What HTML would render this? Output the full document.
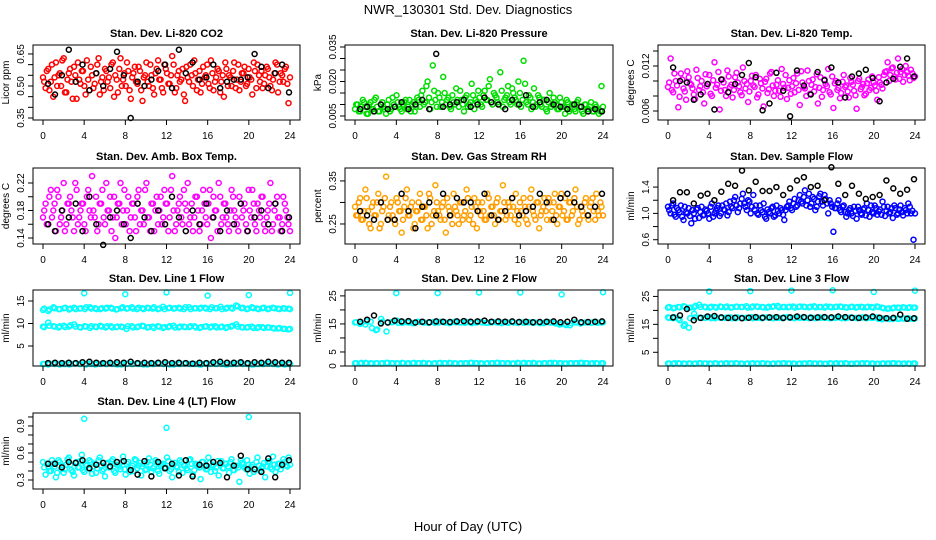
<!DOCTYPE html>
<html><head><meta charset="utf-8"><style>
body{margin:0;background:#fff}
svg{display:block}
text{font-family:"Liberation Sans",Arial,sans-serif;fill:#000}
</style></head><body>
<svg id="chart" width="936" height="540" viewBox="0 0 936 540" xmlns="http://www.w3.org/2000/svg">
<rect x="0" y="0" width="936" height="540" fill="#fff"/>
<text x="468" y="14" font-size="13" text-anchor="middle">NWR_130301  Std. Dev. Diagnostics</text>
<text x="468" y="531" font-size="13" text-anchor="middle">Hour of Day (UTC)</text>
</svg>
<script>
const xTicks=[0,4,8,12,16,20,24];
const co2Main=[0.54,0.49,0.58,0.52,0.45,0.61,0.55,0.50,0.63,0.47,0.56,0.52,0.59,0.44,0.53,0.57,0.50,0.62,0.48,0.55,0.51,0.60,0.46,0.54,0.58,0.52,0.49,0.61,0.55,0.47,0.63,0.53,0.50,0.57,0.44,0.56,0.52,0.59,0.48,0.54,0.61,0.50,0.55,0.46,0.58,0.53,0.49,0.60,0.56,0.51,0.64,0.47,0.55,0.52,0.58,0.43,0.54,0.60,0.50,0.56,0.53,0.47,0.59,0.55,0.51,0.62,0.48,0.54,0.57,0.52,0.45,0.58,0.55,0.50,0.61,0.53,0.48,0.56,0.59,0.51,0.54,0.46,0.57,0.60,0.52,0.49,0.55,0.58,0.50,0.53,0.61,0.47,0.56,0.52,0.59,0.42];
const co2MainB=[0.52,0.57,0.48,0.60,0.54,0.50,0.56,0.62,0.47,0.53,0.58,0.44,0.55,0.61,0.51,0.57,0.46,0.53,0.59,0.49,0.56,0.63,0.52,0.48,0.57,0.54,0.60,0.45,0.53,0.58,0.50,0.56,0.61,0.48,0.54,0.59,0.51,0.57,0.43,0.55,0.52,0.60,0.49,0.56,0.62,0.53,0.47,0.58,0.51,0.55,0.60,0.49,0.57,0.53,0.46,0.59,0.52,0.55,0.62,0.48,0.57,0.51,0.54,0.60,0.49,0.56,0.52,0.58,0.47,0.55,0.61,0.50,0.54,0.57,0.49,0.60,0.52,0.56,0.50,0.58,0.53,0.61,0.49,0.55,0.57,0.51,0.59,0.54,0.48,0.56,0.60,0.52,0.55,0.58,0.51,0.54];
const co2Ref=[0.51,0.46,0.55,0.67,0.52,0.60,0.48,0.56,0.50,0.58,0.66,0.55,0.35,0.52,0.50,0.53,0.57,0.60,0.49,0.67,0.56,0.61,0.53,0.54,0.60,0.49,0.52,0.53,0.53,0.54,0.65,0.59,0.49,0.56,0.60,0.47];
const presMain=[0.008,0.010,0.007,0.012,0.009,0.006,0.011,0.008,0.013,0.007,0.010,0.009,0.006,0.012,0.008,0.010,0.014,0.009,0.007,0.011,0.008,0.012,0.010,0.007,0.013,0.009,0.016,0.011,0.020,0.008,0.027,0.012,0.015,0.009,0.022,0.010,0.013,0.008,0.011,0.017,0.009,0.012,0.007,0.014,0.010,0.019,0.008,0.011,0.013,0.009,0.016,0.012,0.021,0.010,0.014,0.011,0.024,0.009,0.013,0.018,0.010,0.015,0.012,0.020,0.009,0.029,0.011,0.014,0.008,0.017,0.010,0.013,0.009,0.012,0.007,0.015,0.010,0.011,0.008,0.013,0.009,0.006,0.011,0.008,0.010,0.007,0.012,0.009,0.006,0.010,0.008,0.011,0.007,0.009,0.006,0.018];
const presMainB=[0.010,0.007,0.009,0.011,0.006,0.010,0.008,0.012,0.009,0.007,0.011,0.008,0.010,0.007,0.013,0.009,0.011,0.008,0.010,0.012,0.009,0.007,0.011,0.009,0.012,0.014,0.010,0.018,0.013,0.011,0.016,0.009,0.013,0.011,0.015,0.012,0.009,0.014,0.010,0.012,0.016,0.010,0.013,0.009,0.011,0.014,0.012,0.016,0.010,0.014,0.012,0.018,0.011,0.015,0.013,0.010,0.016,0.012,0.014,0.011,0.017,0.013,0.010,0.015,0.012,0.019,0.010,0.013,0.011,0.009,0.014,0.010,0.012,0.008,0.011,0.009,0.013,0.010,0.008,0.011,0.009,0.012,0.007,0.010,0.008,0.011,0.009,0.007,0.010,0.008,0.009,0.007,0.010,0.008,0.007,0.009];
const presRef=[0.008,0.009,0.007,0.010,0.008,0.009,0.011,0.008,0.010,0.012,0.008,0.032,0.009,0.010,0.011,0.012,0.009,0.010,0.013,0.011,0.010,0.008,0.012,0.010,0.014,0.009,0.011,0.012,0.010,0.009,0.008,0.010,0.009,0.007,0.008,0.007];
const tempMain=[0.0092,0.0130,0.0085,0.0100,0.0065,0.0110,0.0090,0.0075,0.0105,0.0095,0.0082,0.0115,0.0088,0.0100,0.0070,0.0093,0.0108,0.0080,0.0125,0.0095,0.0062,0.0102,0.0088,0.0114,0.0092,0.0078,0.0105,0.0098,0.0085,0.0118,0.0090,0.0072,0.0100,0.0094,0.0108,0.0082,0.0097,0.0066,0.0103,0.0089,0.0112,0.0080,0.0095,0.0087,0.0116,0.0091,0.0076,0.0101,0.0093,0.0085,0.0110,0.0068,0.0098,0.0090,0.0114,0.0083,0.0102,0.0092,0.0070,0.0105,0.0088,0.0096,0.0116,0.0082,0.0064,0.0100,0.0091,0.0084,0.0108,0.0094,0.0078,0.0099,0.0087,0.0063,0.0103,0.0092,0.0081,0.0097,0.0088,0.0106,0.0094,0.0075,0.0098,0.0090,0.0112,0.0125,0.0108,0.0118,0.0102,0.0130,0.0112,0.0099,0.0120,0.0107,0.0115,0.0104];
const tempMainB=[0.0098,0.0088,0.0110,0.0094,0.0079,0.0102,0.0086,0.0113,0.0097,0.0090,0.0076,0.0104,0.0093,0.0085,0.0109,0.0096,0.0083,0.0101,0.0091,0.0112,0.0087,0.0098,0.0080,0.0106,0.0095,0.0088,0.0111,0.0093,0.0081,0.0100,0.0096,0.0086,0.0107,0.0092,0.0078,0.0103,0.0090,0.0099,0.0084,0.0110,0.0094,0.0087,0.0101,0.0079,0.0096,0.0108,0.0091,0.0083,0.0104,0.0097,0.0088,0.0113,0.0092,0.0080,0.0100,0.0095,0.0086,0.0109,0.0091,0.0079,0.0102,0.0093,0.0085,0.0106,0.0097,0.0088,0.0077,0.0099,0.0092,0.0086,0.0104,0.0095,0.0081,0.0100,0.0089,0.0096,0.0083,0.0102,0.0091,0.0098,0.0087,0.0105,0.0095,0.0108,0.0113,0.0100,0.0117,0.0106,0.0111,0.0103,0.0116,0.0108,0.0112,0.0101,0.0110,0.0106];
const tempRef=[0.0118,0.0100,0.0098,0.0075,0.0082,0.0096,0.0062,0.0102,0.0085,0.0096,0.0108,0.0124,0.0105,0.0061,0.0070,0.0111,0.0087,0.0053,0.0114,0.0094,0.0082,0.0112,0.0101,0.0118,0.0098,0.0078,0.0106,0.0110,0.0115,0.0104,0.0073,0.0098,0.0103,0.0119,0.0130,0.0106];
const boxMain=[0.17,0.19,0.16,0.21,0.18,0.15,0.20,0.17,0.22,0.16,0.19,0.18,0.15,0.21,0.17,0.19,0.16,0.20,0.18,0.23,0.17,0.15,0.19,0.21,0.16,0.18,0.20,0.17,0.14,0.19,0.22,0.18,0.16,0.20,0.17,0.19,0.15,0.21,0.18,0.16,0.22,0.17,0.19,0.15,0.20,0.18,0.16,0.21,0.19,0.17,0.23,0.15,0.18,0.20,0.16,0.19,0.22,0.17,0.15,0.20,0.18,0.16,0.21,0.17,0.19,0.14,0.20,0.18,0.22,0.16,0.19,0.17,0.15,0.21,0.18,0.16,0.20,0.17,0.19,0.15,0.18,0.21,0.16,0.19,0.17,0.20,0.15,0.18,0.22,0.16,0.19,0.17,0.15,0.20,0.18,0.16];
const boxMainB=[0.18,0.16,0.20,0.17,0.19,0.21,0.16,0.18,0.15,0.19,0.20,0.17,0.22,0.16,0.18,0.19,0.15,0.21,0.17,0.18,0.20,0.16,0.19,0.17,0.22,0.18,0.15,0.20,0.17,0.19,0.16,0.21,0.18,0.15,0.19,0.17,0.20,0.16,0.18,0.21,0.17,0.15,0.19,0.18,0.16,0.20,0.17,0.19,0.15,0.21,0.18,0.16,0.19,0.17,0.21,0.18,0.16,0.19,0.17,0.20,0.15,0.18,0.19,0.16,0.21,0.17,0.18,0.15,0.20,0.17,0.19,0.16,0.18,0.20,0.17,0.15,0.19,0.18,0.16,0.21,0.17,0.19,0.15,0.18,0.20,0.16,0.17,0.19,0.15,0.18,0.20,0.17,0.16,0.19,0.17,0.15];
const boxRef=[0.16,0.15,0.18,0.17,0.19,0.15,0.20,0.16,0.13,0.17,0.18,0.16,0.14,0.19,0.17,0.15,0.18,0.16,0.20,0.17,0.15,0.18,0.16,0.19,0.17,0.15,0.18,0.16,0.19,0.15,0.17,0.18,0.16,0.19,0.15,0.17];
const rhMain=[0.29,0.27,0.31,0.26,0.33,0.28,0.24,0.30,0.27,0.32,0.25,0.29,0.36,0.27,0.30,0.26,0.31,0.28,0.23,0.29,0.33,0.27,0.30,0.25,0.28,0.32,0.26,0.29,0.24,0.31,0.27,0.34,0.28,0.26,0.30,0.23,0.29,0.27,0.32,0.28,0.25,0.30,0.27,0.33,0.26,0.29,0.31,0.24,0.28,0.30,0.26,0.32,0.27,0.29,0.25,0.31,0.28,0.34,0.26,0.30,0.27,0.29,0.32,0.25,0.28,0.31,0.26,0.29,0.33,0.27,0.30,0.24,0.28,0.31,0.26,0.30,0.28,0.32,0.25,0.29,0.27,0.31,0.26,0.30,0.28,0.33,0.25,0.29,0.27,0.31,0.26,0.30,0.28,0.32,0.27,0.29];
const rhMainB=[0.27,0.30,0.26,0.28,0.31,0.25,0.29,0.27,0.30,0.24,0.28,0.31,0.26,0.29,0.27,0.25,0.30,0.28,0.26,0.31,0.27,0.29,0.24,0.28,0.30,0.26,0.29,0.27,0.32,0.25,0.28,0.30,0.27,0.29,0.26,0.31,0.28,0.25,0.29,0.27,0.30,0.26,0.28,0.31,0.27,0.25,0.29,0.30,0.27,0.28,0.26,0.31,0.29,0.27,0.30,0.26,0.28,0.30,0.27,0.29,0.31,0.26,0.28,0.30,0.27,0.29,0.25,0.31,0.28,0.26,0.30,0.27,0.29,0.28,0.31,0.26,0.30,0.27,0.29,0.32,0.28,0.26,0.30,0.27,0.31,0.29,0.26,0.28,0.30,0.27,0.29,0.31,0.26,0.28,0.30,0.27];
const rhRef=[0.28,0.27,0.26,0.30,0.26,0.26,0.32,0.28,0.24,0.29,0.30,0.27,0.32,0.27,0.31,0.30,0.30,0.28,0.32,0.27,0.26,0.28,0.31,0.27,0.28,0.29,0.32,0.30,0.26,0.31,0.32,0.30,0.29,0.27,0.29,0.32];
const flowMain=[1.10,1.00,1.15,0.95,1.05,1.12,0.90,1.02,1.08,0.85,1.00,1.06,0.93,1.10,0.98,1.04,0.92,1.15,1.00,1.08,0.96,1.12,1.05,0.97,1.18,1.08,1.25,1.02,1.15,1.30,1.10,1.20,1.00,1.28,1.12,0.98,1.05,1.15,0.92,1.02,1.08,0.95,1.12,1.00,1.05,0.90,1.10,1.18,1.05,1.22,1.12,1.28,1.15,1.35,1.20,1.10,1.25,1.05,1.18,1.30,1.12,1.22,1.00,1.15,0.72,1.08,1.20,1.02,1.12,0.95,1.05,1.00,1.10,0.92,1.05,0.98,1.08,1.15,0.95,1.02,1.12,0.98,1.06,1.18,0.96,1.10,1.02,0.93,1.08,1.00,1.12,0.97,1.05,1.15,1.00,0.60];
const flowMainB=[1.05,1.12,0.98,1.08,1.02,0.95,1.10,1.00,0.96,1.05,0.92,1.08,1.02,0.97,1.06,1.00,1.10,0.95,1.04,1.12,1.00,1.06,1.15,1.02,1.10,1.20,1.12,1.08,1.22,1.15,1.05,1.18,1.10,1.06,1.00,1.12,1.02,0.95,1.06,1.00,1.10,0.97,1.04,1.08,0.98,1.05,1.12,1.08,1.15,1.10,1.20,1.18,1.25,1.12,1.30,1.15,1.22,1.10,1.26,1.18,1.28,1.15,1.20,1.10,1.08,1.15,1.05,1.10,1.02,1.00,1.08,0.96,1.04,1.10,1.00,1.06,0.97,1.05,1.12,1.00,1.08,1.03,0.98,1.10,1.04,1.00,1.08,1.12,0.98,1.06,1.02,1.08,1.00,1.10,1.04,1.00];
const flowRef=[1.20,1.32,1.32,1.15,1.27,1.30,1.20,1.33,1.45,1.42,1.65,1.35,1.48,1.34,1.34,1.40,1.28,1.38,1.50,1.55,1.40,1.42,1.20,1.70,1.45,1.28,1.42,1.30,1.22,1.25,1.28,1.50,1.38,1.30,1.36,1.52];
const lineLow=[1.0,0.9,1.1,1.0,1.0,0.9,1.1,1.0,1.0,1.1,0.9,1.0,1.0,1.1,1.0,0.9,1.0,1.0,1.1,1.0,0.9,1.0,1.1,1.0,1.0,0.9,1.0,1.1,1.0,1.0,0.9,1.1,1.0,1.0,1.1,0.9,1.0,1.0,1.1,1.0,0.9,1.0,1.0,1.1,1.0,0.9,1.0,1.0];
const lineLowB=[1.0,1.1,1.0,0.9,1.0,1.0,1.1,1.0,0.9,1.0,1.0,1.1,1.0,1.0,0.9,1.0,1.1,1.0,1.0,0.9,1.0,1.0,1.1,1.0,0.9,1.0,1.0,1.1,1.0,1.0,0.9,1.0,1.1,1.0,1.0,0.9,1.0,1.1,1.0,1.0,0.9,1.0,1.0,1.1,1.0,1.0,0.9,1.0];
const spikeHours=[4,8,12,16,20,24];
const line1High=[13.0,12.8,13.6,13.2,13.4,13.1,13.5,13.3,13.2,13.6,13.4,13.2,13.3,13.5,13.1,13.4,13.3,13.6,13.2,13.4,13.5,13.3,13.2,13.7,13.4,13.3,13.5,13.2,13.6,13.4,13.3,13.5,13.2,13.4,13.7,13.3,13.5,14.0,13.4,13.2,13.6,13.3,13.4,13.2,13.5,13.3,13.4,13.3];
const line1HighB=[13.3,13.1,13.4,13.2,13.5,13.3,13.2,13.4,13.6,13.3,13.2,13.4,13.5,13.3,13.2,13.6,13.4,13.3,13.5,13.2,13.4,13.6,13.3,13.2,13.5,13.4,13.3,13.6,13.2,13.4,13.5,13.3,13.6,13.4,13.2,13.5,13.3,13.8,13.5,13.3,13.4,13.2,13.5,13.3,13.4,13.2,13.3,13.2];
const line1Mid=[9.3,10.2,9.4,9.1,9.5,9.3,9.8,9.2,9.4,9.0,9.3,9.5,9.1,9.4,9.2,9.3,8.8,9.4,9.2,9.5,9.1,9.3,9.4,9.0,9.2,9.5,9.1,9.3,9.2,9.4,9.0,9.3,9.1,9.4,9.2,9.0,9.3,9.8,9.2,9.1,9.3,9.0,9.2,9.1,9.0,8.9,8.8,8.7];
const line1MidB=[9.2,9.5,9.3,9.4,9.2,9.6,9.3,9.1,9.3,9.4,9.2,9.3,9.4,9.1,9.3,9.2,9.4,9.1,9.3,9.4,9.2,9.0,9.3,9.2,9.4,9.1,9.3,9.2,9.4,9.1,9.2,9.4,9.3,9.1,9.3,9.2,9.5,9.3,9.1,9.2,9.0,9.2,9.0,9.1,8.9,9.0,8.8,8.8];
const line1Spikes=[16.7,16.5,16.9,16.2,16.3,16.8];
const line1Ref=[1.2,1.3,1.2,1.3,1.2,1.4,1.5,1.3,1.2,1.3,1.4,1.3,1.5,1.2,1.3,1.2,1.3,1.4,1.2,1.3,1.2,1.1,1.3,1.2,1.4,1.5,1.3,1.3,1.4,1.2,1.4,1.3,1.5,1.4,1.3,1.3];
const line2High=[15.5,15.0,14.8,15.8,12.8,16.8,12.3,15.6,16.2,15.4,15.6,15.3,15.8,15.5,15.4,15.7,15.5,15.6,15.3,15.8,15.5,15.4,15.6,15.5,15.7,15.4,15.5,15.6,15.3,15.5,15.8,15.4,15.5,15.6,15.4,15.5,15.3,15.6,15.4,14.8,15.0,14.5,15.6,15.2,15.5,15.4,15.6,15.5];
const line2HighB=[15.6,15.3,15.9,13.5,13.0,15.8,15.5,15.7,15.4,15.6,15.5,15.3,15.7,15.5,15.6,15.4,15.8,15.5,15.4,15.6,15.5,15.7,15.3,15.6,15.5,15.4,15.7,15.5,15.6,15.4,15.5,15.7,15.4,15.6,15.5,15.3,15.6,15.5,15.2,14.9,14.6,15.3,15.5,15.4,15.6,15.5,15.4,15.6];
const line2Spikes=[26.0,26.0,26.2,26.2,25.5,26.3];
const line2Ref=[15.8,16.5,18.0,15.2,15.5,16.2,15.9,16.0,15.5,15.8,15.6,15.9,15.8,15.7,15.9,16.0,15.8,15.9,16.2,15.8,15.9,15.8,15.9,15.7,15.8,15.6,15.7,15.8,15.9,15.6,15.8,16.5,15.6,15.7,15.8,15.9];
const line3High=[21.0,20.8,21.2,21.5,20.9,21.1,22.0,21.3,21.0,21.2,21.4,21.1,21.0,21.3,21.2,21.5,21.1,21.4,21.2,21.0,21.3,21.6,21.2,21.1,21.4,21.2,21.3,21.1,21.5,21.2,21.0,21.3,21.2,21.4,21.1,21.2,21.0,21.3,21.1,21.2,21.4,21.0,20.6,20.8,21.0,21.1,20.9,21.0];
const line3HighB=[21.2,20.9,21.1,21.3,21.0,21.6,21.2,21.1,21.3,21.0,21.2,21.4,21.1,21.3,21.2,21.0,21.4,21.2,21.1,21.3,21.5,21.1,21.2,21.3,21.0,21.4,21.2,21.3,21.1,21.2,21.4,21.1,21.3,21.2,21.0,21.3,21.2,21.1,21.3,21.0,21.2,20.8,20.7,21.0,20.9,21.0,21.1,21.0];
const line3Mid=[17.5,17.2,17.0,14.5,13.8,18.8,17.4,17.3,17.6,17.2,17.4,17.3,17.5,17.2,17.4,17.3,17.6,17.4,17.2,17.5,17.3,17.4,17.2,17.6,17.3,17.5,17.4,17.2,17.3,17.5,17.4,17.2,17.3,17.4,17.2,17.5,17.3,17.4,17.2,17.3,17.5,16.8,17.2,16.9,17.0,17.1,17.2,17.0];
const line3MidB=[17.3,17.6,16.5,15.0,17.2,17.5,17.3,17.4,17.2,17.5,17.3,17.4,17.2,17.5,17.3,17.4,17.2,17.3,17.5,17.4,17.2,17.3,17.5,17.4,17.2,17.3,17.4,17.5,17.2,17.3,17.4,17.3,17.5,17.2,17.4,17.3,17.2,17.5,17.3,17.4,17.0,17.1,16.9,17.2,17.0,17.1,17.0,17.1];
const line3Spikes=[26.8,26.9,27.1,27.2,26.6,27.1];
const line3Ref=[17.5,18.2,20.5,16.5,17.3,17.8,18.0,17.5,17.3,17.4,17.2,17.4,17.6,17.4,17.5,17.6,17.3,17.5,17.8,17.6,17.4,17.5,17.6,17.5,17.8,17.6,17.4,17.3,17.5,17.8,17.4,17.2,17.3,18.5,17.0,17.2];
const line4Main=[0.50,0.36,0.45,0.40,0.48,0.33,0.52,0.42,0.38,0.47,0.55,0.41,0.35,0.50,0.44,0.58,0.39,0.46,0.52,0.37,0.48,0.43,0.55,0.40,0.34,0.49,0.45,0.53,0.38,0.47,0.42,0.56,0.36,0.50,0.44,0.40,0.52,0.46,0.35,0.48,0.42,0.54,0.39,0.45,0.50,0.37,0.47,0.43,0.55,0.40,0.33,0.49,0.44,0.52,0.38,0.46,0.41,0.53,0.36,0.48,0.45,0.31,0.50,0.42,0.55,0.39,0.47,0.44,0.35,0.51,0.43,0.48,0.38,0.53,0.41,0.46,0.28,0.49,0.44,0.52,0.37,0.47,0.42,0.55,0.40,0.45,0.33,0.50,0.44,0.56,0.39,0.48,0.42,0.53,0.46,0.55];
const line4MainB=[0.44,0.48,0.40,0.52,0.45,0.38,0.50,0.46,0.42,0.53,0.47,0.39,0.49,0.44,0.51,0.41,0.47,0.43,0.50,0.45,0.38,0.52,0.46,0.42,0.48,0.44,0.51,0.40,0.47,0.45,0.50,0.42,0.48,0.39,0.46,0.53,0.43,0.49,0.45,0.41,0.50,0.47,0.43,0.52,0.40,0.46,0.48,0.44,0.51,0.42,0.47,0.45,0.39,0.50,0.46,0.43,0.52,0.48,0.41,0.47,0.44,0.50,0.45,0.42,0.49,0.46,0.40,0.51,0.47,0.43,0.48,0.45,0.50,0.41,0.46,0.44,0.52,0.48,0.42,0.47,0.45,0.39,0.50,0.46,0.43,0.49,0.45,0.51,0.42,0.47,0.44,0.48,0.46,0.50,0.45,0.47];
const line4SpikeHours=[4,12,20];
const line4Spikes=[0.98,0.88,1.00];
const line4Ref=[0.48,0.48,0.44,0.50,0.49,0.52,0.43,0.47,0.49,0.45,0.50,0.51,0.41,0.36,0.51,0.34,0.50,0.43,0.48,0.35,0.52,0.34,0.47,0.46,0.50,0.49,0.33,0.46,0.57,0.42,0.42,0.39,0.54,0.33,0.47,0.52];
const yTicks1=[0.35,0.40,0.45,0.50,0.55,0.60,0.65], yLabels1=["0.35","0.50","0.65"];
const yTicks2=[0.005,0.010,0.015,0.020,0.025,0.030,0.035], yLabels2=["0.005","0.020","0.035"];
const yTicks3=[0.006,0.008,0.010,0.012,0.014], yLabels3=["0.006","0.012"];
const yTicks4=[0.14,0.16,0.18,0.20,0.22], yLabels4=["0.14","0.18","0.22"];
const yTicks5=[0.25,0.30,0.35], yLabels5=["0.25","0.35"];
const yTicks6=[0.6,0.8,1.0,1.2,1.4], yLabels6=["0.6","1.0","1.4"];
const yTicks7=[5,10,15], yLabels7=["5","10","15"];
const yTicks8=[0,5,10,15,20,25], yLabels8=["0","5","15","25"];
const yTicks9=[5,10,15,20,25], yLabels9=["5","15","25"];
const yTicks10=[0.3,0.4,0.5,0.6,0.7,0.8,0.9,1.0], yLabels10=["0.3","0.6","0.9"];

const NS="http://www.w3.org/2000/svg";
const svg=document.getElementById('chart');
const colL=[33,345,658], colR=[300,613,925], rowT=[45,168,290,413], rowB=[120,244,366,489];
function mk(tag,attrs,parent){const e=document.createElementNS(NS,tag);for(const k in attrs)e.setAttribute(k,attrs[k]);(parent||svg).appendChild(e);return e;}
function evenHours(n,a,b){const h=[];for(let i=0;i<n;i++)h.push(a+(b-a)*i/(n-1));return h;}
const CY='#00ffff';
const panels=[
 {name:'co2',title:'Stan. Dev. Li-820 CO2',yt:'Licor ppm',c:0,r:0,dom:[0.3406,0.692],ticks:yTicks1,labels:yLabels1,series:[[co2Main,'#ff0000'],[co2MainB,'#ff0000',null,1],[co2Ref,'#000']]},
 {name:'pressure',title:'Stan. Dev. Li-820 Pressure',yt:'kPa',c:1,r:0,dom:[0.00326,0.03587],ticks:yTicks2,labels:yLabels2,series:[[presMain,'#00dd00'],[presMainB,'#00dd00',null,1],[presRef,'#000']]},
 {name:'temp',title:'Stan. Dev. Li-820 Temp.',yt:'degrees C',c:2,r:0,dom:[0.0048,0.0148],ticks:yTicks3,labels:yLabels3,series:[[tempMain,'#ff00ff'],[tempMainB,'#ff00ff',null,1],[tempRef,'#000']]},
 {name:'amb-box-temp',title:'Stan. Dev. Amb. Box Temp.',yt:'degrees C',c:0,r:1,dom:[0.1313,0.2418],ticks:yTicks4,labels:yLabels4,series:[[boxMain,'#ff00ff'],[boxMainB,'#ff00ff',null,1],[boxRef,'#000']]},
 {name:'gas-rh',title:'Stan. Dev. Gas Stream RH',yt:'percent',c:1,r:1,dom:[0.2035,0.380],ticks:yTicks5,labels:yLabels5,series:[[rhMain,'#ffa500'],[rhMainB,'#ff9900',null,1],[rhRef,'#000']]},
 {name:'sample-flow',title:'Stan. Dev. Sample Flow',yt:'ml/min',c:2,r:1,dom:[0.535,1.69],ticks:yTicks6,labels:yLabels6,series:[[flowMain,'#0000ff'],[flowMainB,'#0000ff',null,1],[flowRef,'#000']]},
 {name:'line1-flow',title:'Stan. Dev. Line 1 Flow',yt:'ml/min',c:0,r:2,dom:[0.56,17.44],ticks:yTicks7,labels:yLabels7,series:[[line1High,CY],[line1HighB,CY,null,1],[line1Mid,CY],[line1MidB,CY,null,1],[lineLow,CY],[lineLowB,CY,null,1],[line1Spikes,CY,spikeHours],[line1Ref,'#000']]},
 {name:'line2-flow',title:'Stan. Dev. Line 2 Flow',yt:'ml/min',c:1,r:2,dom:[0,27.1],ticks:yTicks8,labels:yLabels8,series:[[line2High,CY],[line2HighB,CY,null,1],[lineLow,CY],[lineLowB,CY,null,1],[line2Spikes,CY,spikeHours],[line2Ref,'#000']]},
 {name:'line3-flow',title:'Stan. Dev. Line 3 Flow',yt:'ml/min',c:2,r:2,dom:[0.09,27.3],ticks:yTicks9,labels:yLabels9,series:[[line3High,CY],[line3HighB,CY,null,1],[line3Mid,CY],[line3MidB,CY,null,1],[lineLow,CY],[lineLowB,CY,null,1],[line3Spikes,CY,spikeHours],[line3Ref,'#000']]},
 {name:'line4-flow',title:'Stan. Dev. Line 4 (LT) Flow',yt:'ml/min',c:0,r:3,dom:[0.2,1.044],ticks:yTicks10,labels:yLabels10,series:[[line4Main,CY],[line4MainB,CY,null,1],[line4Spikes,CY,line4SpikeHours],[line4Ref,'#000']]}
];
panels.forEach(p=>{
 const L=colL[p.c],R=colR[p.c],T=rowT[p.r],B=rowB[p.r];
 const xs=h=>L+10+(R-L-20)*h/24;
 const ys=v=>B-(v-p.dom[0])/(p.dom[1]-p.dom[0])*(B-T);
 const g=mk('g',{});
 
 
 const t=mk('text',{x:(L+R)/2,y:T-8,'font-size':'11','font-weight':'bold','text-anchor':'middle'},g);
 t.textContent=p.title;
 
 
 const pts=mk('g',{fill:'none','stroke-width':'1.5'},g);
 
 
 p.series.forEach(s=>{
  const vals=s[0],col=s[1];
  let hrs=s[2];
  if(!hrs){
   if(col==='#000') hrs=evenHours(vals.length,0.5,23.9);
   else if(s[3]) hrs=evenHours(vals.length,0.12,24);
   else hrs=evenHours(vals.length,0,23.85);
  }
  vals.forEach((v,i)=>{
   const c=mk('circle',{cx:xs(hrs[i]).toFixed(1),cy:ys(v).toFixed(1),r:'2.5',stroke:col},pts);
   
   
  });
 });
 const box=mk('rect',{x:L,y:T,width:R-L,height:B-T,fill:'none',stroke:'#000','stroke-width':'1'},g);
 
 
 const xa=mk('g',{},g);
 
 
 xTicks.forEach(h=>{
  mk('line',{x1:xs(h),x2:xs(h),y1:B,y2:B+5,stroke:'#000'},xa);
  const tl=mk('text',{x:xs(h),y:B+19,'font-size':'10','text-anchor':'middle'},xa);
  tl.textContent=String(h);
 });
 const ya=mk('g',{},g);
 
 
 p.ticks.forEach(v=>{mk('line',{x1:L-5,x2:L,y1:ys(v),y2:ys(v),stroke:'#000'},ya);});
 p.labels.forEach(lb=>{
  const y=ys(parseFloat(lb));
  const tl=mk('text',{x:L-9,y:y,'font-size':'10','text-anchor':'middle',transform:`rotate(-90 ${L-9} ${y})`},ya);
  tl.textContent=lb;
 });
 const yt=mk('text',{x:L-24,y:(T+B)/2,'font-size':'10','text-anchor':'middle',transform:`rotate(-90 ${L-24} ${(T+B)/2})`},g);
 yt.textContent=p.yt;
 
 
});
</script>
</body></html>
